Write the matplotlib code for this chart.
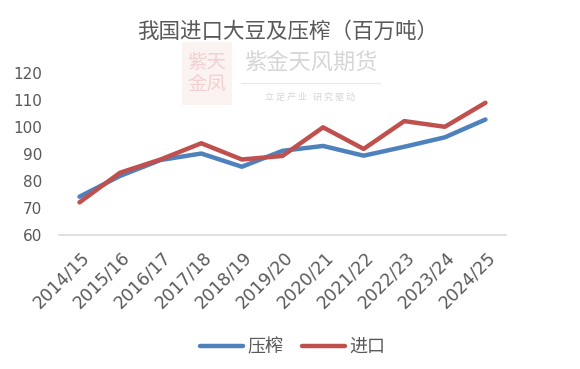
import numpy as np
import matplotlib.pyplot as plt
import matplotlib.transforms as mtransforms
from matplotlib.patches import Rectangle

plt.rcParams['font.family'] = ['DejaVu Sans', 'Noto Sans CJK SC']

# ====== データ ======
seasons = ['2014/15', '2015/16', '2016/17', '2017/18', '2018/19', '2019/20',
           '2020/21', '2021/22', '2022/23', '2023/24', '2024/25']
crush = [74.2, 81.9, 87.8, 90.2, 85.3, 91.2, 93.0, 89.4, 92.7, 96.2, 102.8]
imports = [72.1, 83.1, 88.0, 94.0, 88.0, 89.3, 99.9, 91.9, 102.2, 100.1, 109.0]
yticks = [60, 70, 80, 90, 100, 110, 120]

fig = plt.figure(figsize=(5.8, 3.69), dpi=100)
ax = fig.add_axes([0.102, 0.363, 0.770, 0.439])

x = np.arange(len(seasons))
ax.plot(x, crush, color='#4F81BD', lw=3.2, label='压榨', solid_capstyle='round')
ax.plot(x, imports, color='#C0504D', lw=3.2, label='进口', solid_capstyle='round')

ax.set_xlim(-0.5, len(seasons) - 0.5)
ax.set_ylim(60, 120)
ax.set_yticks(yticks)
ax.set_xticks(x)
ax.set_xticklabels(seasons, rotation=45, ha='right', va='center',
                   rotation_mode='anchor', fontsize=12.5)
ax.tick_params(axis='y', length=0, labelsize=11, labelcolor='#595959', pad=12)
ax.tick_params(axis='x', length=0, labelcolor='#595959', pad=14)
# 目盛ラベルを少し右へずらす
off = mtransforms.ScaledTranslation(5.4 / 72, 0, fig.dpi_scale_trans)
for lbl in ax.get_xticklabels():
    lbl.set_transform(lbl.get_transform() + off)
for s in ['top', 'right', 'left']:
    ax.spines[s].set_visible(False)
ax.spines['bottom'].set_color('#D9D9D9')
ax.spines['bottom'].set_linewidth(1.2)

fig.text(0.496, 0.913, '我国进口大豆及压榨（百万吨）', ha='center', va='center',
         fontsize=15.5, color='#595959', fontweight='light',
         family=['Noto Sans CJK SC'])

# watermark
fig.add_artist(Rectangle((0.314, 0.715), 0.086, 0.171, transform=fig.transFigure,
                         facecolor='#F8E4E4', edgecolor='none', alpha=0.45))
fig.text(0.357, 0.80, '紫天\n金凤', ha='center', va='center', fontsize=14,
         color='#E8A8A8', alpha=0.45, linespacing=1.05, family=['Noto Sans CJK SC'])
fig.text(0.535, 0.829, '紫金天风期货', ha='center', va='center', fontsize=16,
         color='#D6D6D6', family=['Noto Sans CJK SC'])
fig.text(0.535, 0.737, '立 足 产 业   研 究 驱 动', ha='center', va='center',
         fontsize=6.5, color='#D6D6D6', family=['Noto Sans CJK SC'])
fig.add_artist(plt.Line2D([0.416, 0.655], [0.775, 0.775], color='#E8E8E8', lw=0.8))

fig.legend(loc='center', bbox_to_anchor=(0.505, 0.06), ncol=2, frameon=False,
           prop={'family': ['Noto Sans CJK SC'], 'size': 13}, labelcolor='#595959',
           handlelength=2.4, handletextpad=0.25, columnspacing=1.0)

fig.savefig('out.png', dpi=100)
